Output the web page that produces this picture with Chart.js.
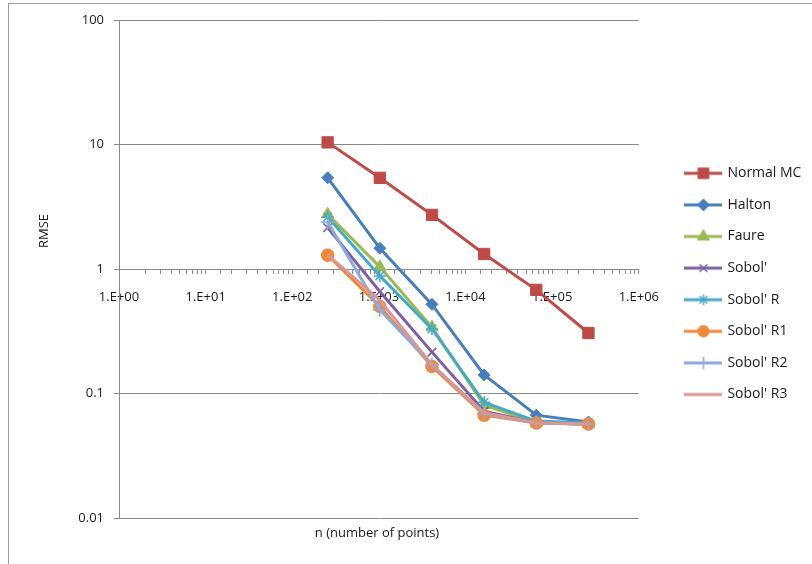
<!DOCTYPE html>
<html>
<head>
<meta charset="utf-8">
<script src="https://cdn.jsdelivr.net/npm/chart.js@4/dist/chart.umd.min.js"></script>
<style>
  html, body { margin: 0; padding: 0; background: #fff; }
  #wrap { width: 812px; height: 564px; }
</style>
</head>
<body>
<div id="wrap"><canvas id="myChart"></canvas></div>
<script>
// n = number of points (x), RMSE values per method (y)
const nPoints = [256, 1024, 4096, 16384, 65536, 262144];

const normalMC  = [10.4, 5.4, 2.72, 1.32, 0.68, 0.306];
const halton    = [5.4, 1.47, 0.52, 0.141, 0.067, 0.059];
const faure     = [2.75, 1.04, 0.34, 0.081, 0.058, 0.057];
const sobol     = [2.15, 0.66, 0.215, 0.072, 0.058, 0.057];
const sobolR    = [2.62, 0.88, 0.33, 0.085, 0.06, 0.058];
const sobolR1   = [1.29, 0.5, 0.165, 0.067, 0.058, 0.057];
const sobolR2   = [2.38, 0.47, 0.17, 0.069, 0.058, 0.057];
const sobolR3   = [1.3, 0.56, 0.17, 0.07, 0.058, 0.057];

const seriesNames = ['Normal MC', 'Halton', 'Faure', "Sobol'", "Sobol' R", "Sobol' R1", "Sobol' R2", "Sobol' R3"];
const seriesData = [normalMC, halton, faure, sobol, sobolR, sobolR1, sobolR2, sobolR3];
const seriesColors = ['#BE4B48', '#4A7EBB', '#98B954', '#7D60A0', '#46AAC5', '#F0883A', '#8EAADB', '#D99694'];
const seriesMarkers = ['rect', 'rectRot', 'triangle', 'crossRot', 'star', 'circle', 'cross', false];
const markerSizes = [8, 6, 7, 6, 6, 6, 7, 0];

const yTicks = [0.01, 0.1, 1, 10, 100];
const yTickLabels = ['0.01', '0.1', '1', '10', '100'];

const fontFam = "'Open Sans', sans-serif";
const txtColor = '#1a1a1a';
const axisGray = '#8a8a8a';

// little canvas with line + marker, used as legend symbol
function legendSymbol(i) {
    const c = document.createElement('canvas');
    c.width = 38; c.height = 16;
    const g = c.getContext('2d');
    g.strokeStyle = seriesColors[i];
    g.fillStyle = seriesColors[i];
    g.lineWidth = 3;
    g.beginPath(); g.moveTo(0, 8); g.lineTo(38, 8); g.stroke();
    if (seriesMarkers[i]) {
        g.lineWidth = 1.5;
        Chart.helpers.drawPoint(g, { pointStyle: seriesMarkers[i], radius: markerSizes[i] * 0.9, borderWidth: 1.5, rotation: 0 }, 19, 8);
    }
    return c;
}

const datasets = seriesNames.map(function (name, i) {
    return {
        label: name,
        data: nPoints.map(function (n, j) { return { x: n, y: seriesData[i][j] }; }),
        borderColor: seriesColors[i],
        backgroundColor: seriesColors[i],
        borderWidth: 3,
        pointStyle: seriesMarkers[i],
        pointRadius: markerSizes[i],
        pointBorderWidth: (i >= 3 ? 1.5 : 1),
        pointHoverRadius: markerSizes[i],
        tension: 0,
        order: -i   // later series drawn on top, like excel
    };
});

// frame round the chart and the two axis titles
const decoPlugin = {
    id: 'deco',
    beforeDraw(chart) {
        const c = chart.ctx;
        c.save();
        c.fillStyle = '#fff';
        c.fillRect(0, 0, chart.width, chart.height);
        c.strokeStyle = '#9a9a9a';
        c.lineWidth = 1;
        c.strokeRect(8.5, 3.5, chart.width + 10, chart.height + 10);
        c.restore();
    },
    afterDraw(chart) {
        const c = chart.ctx;
        c.save();
        c.fillStyle = txtColor;
        c.font = '13px ' + fontFam;
        c.textAlign = 'center';
        c.textBaseline = 'middle';
        c.fillText('n (number of points)', 377, 533);
        c.translate(44, 231);
        c.rotate(-Math.PI / 2);
        c.fillText('RMSE', 0, 0);
        c.restore();
    }
};

const ctx = document.getElementById('myChart');
const myChart = new Chart(ctx, {
    type: 'line',
    data: { datasets: datasets },
    plugins: [decoPlugin],
    options: {
        responsive: true,
        maintainAspectRatio: false,
        animation: false,
        layout: { padding: { left: 8, top: 20, bottom: 46, right: 11 } },
        plugins: {
            tooltip: { enabled: false },
            legend: {
                position: 'right',
                title: { display: true, text: ' ', font: { size: 14 }, padding: { top: 7, bottom: 6 } },
                labels: {
                    usePointStyle: true,
                    pointStyleWidth: 34,
                    padding: 17.6,
                    color: txtColor,
                    font: { size: 14, family: fontFam },
                    sort: function (a, b) { return a.datasetIndex - b.datasetIndex; },
                    generateLabels: function (chart) {
                        return chart.data.datasets.map(function (ds, i) {
                            return {
                                text: ds.label,
                                datasetIndex: i,
                                pointStyle: legendSymbol(i),
                                fillStyle: seriesColors[i],
                                strokeStyle: seriesColors[i],
                                lineWidth: 0,
                                fontColor: txtColor,
                                hidden: false
                            };
                        });
                    }
                }
            }
        },
        scales: {
            x: {
                type: 'logarithmic',
                position: { y: 1 },
                min: 1,
                max: 1000000,
                grid: { display: true, drawOnChartArea: false, drawTicks: true, tickLength: 4, color: axisGray },
                border: { display: true, color: axisGray },
                ticks: {
                    autoSkip: false,
                    maxRotation: 0,
                    padding: 16,
                    color: txtColor,
                    font: { size: 13, family: fontFam },
                    callback: function (v) {
                        const e = Math.round(Math.log10(v));
                        if (Math.abs(v - Math.pow(10, e)) > 1e-6 * v) return '';
                        return '1.E+' + (e < 10 ? '0' : '') + e;
                    }
                }
            },
            y: {
                type: 'logarithmic',
                min: 0.01,
                max: 100,
                afterBuildTicks: function (scale) {
                    scale.ticks = yTicks.map(function (v) { return { value: v }; });
                },
                afterFit: function (scale) { scale.width = 111; },
                grid: { color: axisGray, tickLength: 5 },
                border: { display: true, color: axisGray },
                ticks: {
                    padding: 10,
                    color: txtColor,
                    font: { size: 13, family: fontFam },
                    callback: function (v) {
                        const k = yTicks.indexOf(v);
                        return k >= 0 ? yTickLabels[k] : '';
                    }
                }
            },
            // empty axis, only keeps a gap between plot and legend
            gap: {
                type: 'linear',
                position: 'right',
                display: true,
                grid: { display: false },
                border: { display: false },
                ticks: { display: false },
                afterFit: function (scale) { scale.width = 30; }
            }
        }
    }
});
</script>
</body>
</html>
